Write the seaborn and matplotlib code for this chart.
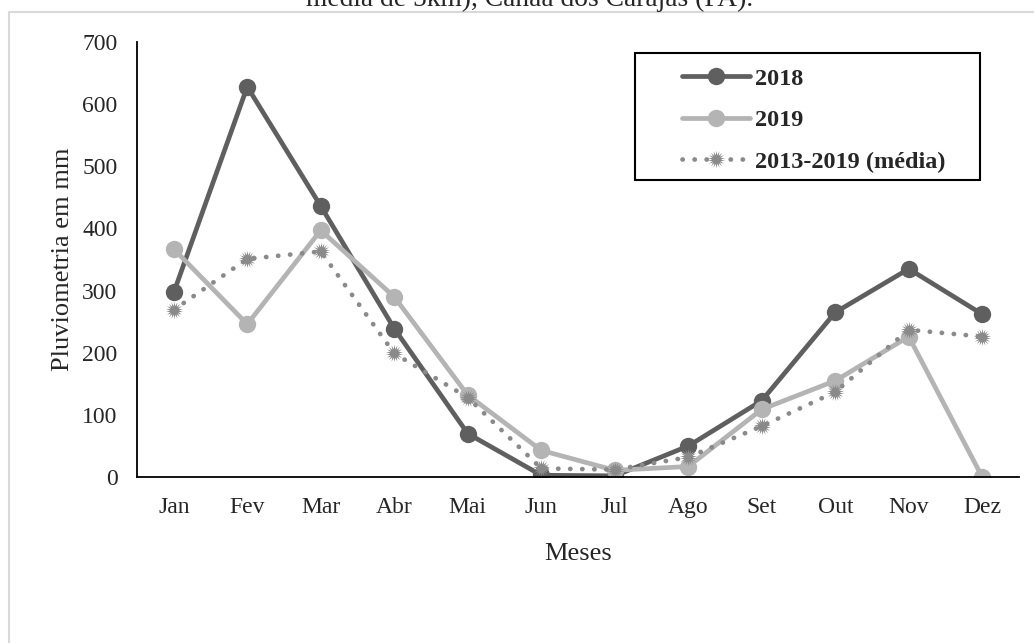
import pandas as pd
import seaborn as sns
import matplotlib.pyplot as plt
from matplotlib.patches import Rectangle

# dados (mm)
meses = ["Jan", "Fev", "Mar", "Abr", "Mai", "Jun", "Jul", "Ago", "Set", "Out", "Nov", "Dez"]
chuva_2018 = [297, 628, 436, 239, 70, 3, 2, 50, 123, 265, 335, 262]
chuva_2019 = [367, 246, 397, 290, 132, 43, 11, 17, 109, 155, 226, 0]
chuva_media = [269, 351, 363, 199, 128, 14, 12, 32, 82, 137, 237, 226]
series = ["2018", "2019", "2013-2019 (média)"]

df = pd.DataFrame({
    "mes": meses * 3,
    "valor": chuva_2018 + chuva_2019 + chuva_media,
    "serie": [series[0]] * 12 + [series[1]] * 12 + [series[2]] * 12,
})

sns.set_style("white")
plt.rcParams["font.family"] = ["Liberation Serif", "DejaVu Serif"]

fig = plt.figure(figsize=(10.34, 6.43), dpi=100)
ax = fig.add_axes([0.1325, 0.258, 0.853, 0.6767])

cores = {series[0]: "#5f5f5f", series[1]: "#b4b4b4", series[2]: "#8a8a8a"}
marcadores = {series[0]: "o", series[1]: "o", series[2]: (18, 1, 0)}
tracos = {series[0]: "", series[1]: "", series[2]: (0.05, 2.5)}

sns.lineplot(data=df, x="mes", y="valor", hue="serie", style="serie",
             palette=cores, markers=marcadores, dashes=tracos, sort=False,
             linewidth=3.4, markersize=12.5, markeredgewidth=0,
             dash_capstyle="round", ax=ax)

ax.set_xlim(-0.5, 11.5)
ax.set_ylim(0, 700)
ax.set_yticks(range(0, 701, 100))
ax.tick_params(axis="both", length=0, labelsize=17)
ax.tick_params(axis="x", pad=14)
ax.tick_params(axis="y", pad=14)
ax.set_xlabel("Meses", fontsize=19, labelpad=18)
ax.set_ylabel("Pluviometria em mm", fontsize=19, labelpad=6)
for s in ["top", "right"]:
    ax.spines[s].set_visible(False)
for s in ["left", "bottom"]:
    ax.spines[s].set_color("black")
    ax.spines[s].set_linewidth(1.3)

# legenda sem moldura + caixa desenhada à parte
handles, labels = ax.get_legend_handles_labels()
leg = ax.legend(handles, labels, loc="upper left",
                bbox_to_anchor=(0.604, 0.969), frameon=False,
                handlelength=2.8, handletextpad=0.2, borderpad=0,
                labelspacing=0.8, prop={"weight": "bold", "size": 17.5})
ax.add_patch(Rectangle((0.5646, 0.683), 0.391, 0.292, transform=ax.transAxes,
                       fill=False, edgecolor="black", linewidth=1.5,
                       clip_on=False, zorder=5))

# moldura cinza e título cortado no topo
fig.patches.append(Rectangle((9 / 1034, -0.1), 1.2, 1.1 - 12 / 643,
                             transform=fig.transFigure, fill=False,
                             edgecolor="#d9d9d9", linewidth=1.5))
fig.text(0.512, 1 - 6 / 643, "média de 5km), Canaã dos Carajás (PA).",
         ha="center", va="baseline", fontsize=19.8)

fig.savefig("out.png", dpi=100)
